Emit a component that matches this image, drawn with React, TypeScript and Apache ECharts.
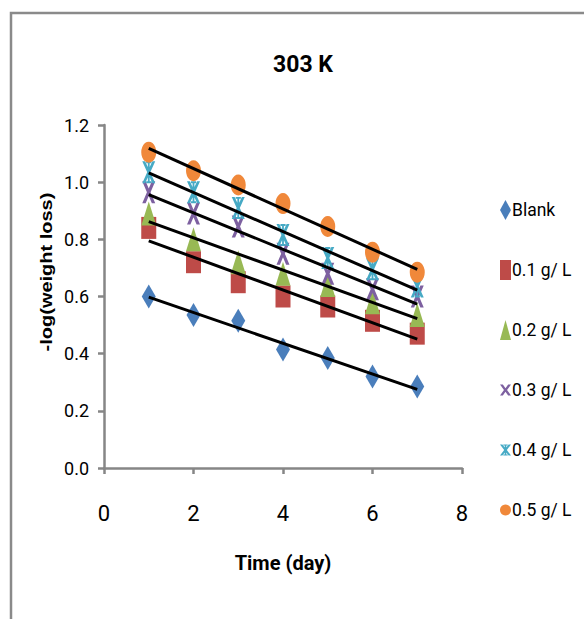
import React, { useEffect, useRef } from "react";
import * as echarts from "echarts";

const days = [1, 2, 3, 4, 5, 6, 7];
const blank = [0.6, 0.535, 0.515, 0.415, 0.385, 0.32, 0.285];
const c01 = [0.84, 0.72, 0.65, 0.6, 0.565, 0.515, 0.47];
const c02 = [0.89, 0.8, 0.72, 0.68, 0.64, 0.58, 0.535];
const c03 = [0.965, 0.89, 0.845, 0.75, 0.68, 0.625, 0.6];
const c04 = [1.035, 0.965, 0.91, 0.815, 0.735, 0.695, 0.635];
const c05 = [1.105, 1.04, 0.99, 0.925, 0.845, 0.755, 0.685];
const seriesNames = ["Blank", "0.1 g/ L", "0.2 g/ L", "0.3 g/ L", "0.4 g/ L", "0.5 g/ L"];
const xTicks = [0, 2, 4, 6, 8];
const yTicks = [0, 0.2, 0.4, 0.6, 0.8, 1.0, 1.2];

const FONT = "Roboto, 'Liberation Sans', sans-serif";

const X_SYM = "path://M0,0 L2.6,0 L5,3.3 L7.4,0 L10,0 L6.4,5 L10,10 L7.4,10 L5,6.7 L2.6,10 L0,10 L3.6,5 Z";
const STAR_SYM =
  "path://M0,0 L2.2,0 L5,3.6 L7.8,0 L10,0 L6.2,5 L10,10 L7.8,10 L5,6.4 L2.2,10 L0,10 L3.8,5 Z M4.3,0 L5.7,0 L5.7,10 L4.3,10 Z M3,0 L7,0 L7,0.9 L3,0.9 Z M3,9.1 L7,9.1 L7,10 L3,10 Z";

function fit(ys: number[]) {
  const n = days.length;
  const mx = days.reduce((a, b) => a + b, 0) / n;
  const my = ys.reduce((a, b) => a + b, 0) / n;
  let sxy = 0, sxx = 0;
  for (let i = 0; i < n; i++) {
    sxy += (days[i] - mx) * (ys[i] - my);
    sxx += (days[i] - mx) * (days[i] - mx);
  }
  const b = sxy / sxx;
  const a = my - b * mx;
  const x0 = days[0], x1 = days[n - 1];
  return [[x0, a + b * x0], [x1, a + b * x1]];
}

export default function App() {
  const ref = useRef<HTMLDivElement>(null);
  useEffect(() => {
    document.body.style.margin = "0";
    if (!ref.current) return;
    const chart = echarts.init(ref.current, null, { renderer: "svg" });
    const all = [blank, c01, c02, c03, c04, c05];
    const colors = ["#4A7EBB", "#BE4B48", "#98B954", "#7D60A0", "#46AAC5", "#F0883A"];
    const symbols = ["diamond", "rect", "triangle", X_SYM, STAR_SYM, "circle"];
    const sizes = [[14, 24], [15, 22], [15, 24], [13, 22], [13, 22], [15, 21]];
    const scatter = all.map((ys, i) => ({
      name: seriesNames[i],
      type: "scatter",
      data: ys.map((y, j) => [days[j], y]),
      symbol: symbols[i],
      symbolSize: sizes[i],
      itemStyle: { color: colors[i], opacity: 1 },
      z: 2 + i,
    }));
    const trends = all.map((ys) => ({
      type: "line",
      data: fit(ys),
      showSymbol: false,
      symbol: "none",
      lineStyle: { color: "#000", width: 3 },
      itemStyle: { color: "#000" },
      z: 10,
      silent: true,
    }));
    chart.setOption({
      animation: false,
      title: {
        text: "303 K",
        left: 298,
        top: 48,
        textAlign: "center",
        textStyle: { fontFamily: FONT, fontWeight: "bold", fontSize: 23, color: "#000" },
      },
      grid: { left: 104, right: 122, top: 125, bottom: 151, containLabel: false },
      xAxis: {
        type: "value",
        min: 0,
        max: 8,
        interval: 2,
        name: "Time (day)",
        nameLocation: "middle",
        nameGap: 85,
        nameTextStyle: { fontFamily: FONT, fontWeight: "bold", fontSize: 20, color: "#000" },
        axisLine: { lineStyle: { color: "#868686", width: 2.5 } },
        axisTick: { show: true, inside: false, length: 6, lineStyle: { color: "#868686", width: 2.5 } },
        axisLabel: {
          margin: 34,
          fontFamily: FONT,
          fontSize: 22,
          color: "#000",
          formatter: (v: number) => (xTicks.includes(v) ? String(v) : ""),
        },
        splitLine: { show: false },
      },
      yAxis: {
        type: "value",
        min: 0,
        max: 1.2,
        interval: 0.2,
        axisLine: { show: true, lineStyle: { color: "#868686", width: 2.5 } },
        axisTick: { show: true, inside: false, length: 6, lineStyle: { color: "#868686", width: 2.5 } },
        axisLabel: {
          margin: 15,
          fontFamily: FONT,
          fontSize: 18,
          color: "#000",
          formatter: (v: number) => {
            const t = yTicks.find((k) => Math.abs(k - v) < 1e-6);
            return t === undefined ? "" : t.toFixed(1);
          },
        },
        splitLine: { show: false },
      },
      legend: {
        data: seriesNames,
        orient: "vertical",
        left: 495,
        top: 195,
        itemWidth: 11,
        itemHeight: 20,
        itemGap: 40,
        textStyle: { fontFamily: FONT, fontSize: 17.5, lineHeight: 20, color: "#000", padding: [0, 0, 0, -4] },
      },
      graphic: [
        {
          type: "rect",
          shape: { x: 11, y: 13, width: 640, height: 660 },
          style: { fill: "none", stroke: "#8a8a8a", lineWidth: 2.5 },
          silent: true,
        },
        {
          type: "text",
          x: 46,
          y: 272,
          rotation: Math.PI / 2,
          scaleY: 0.85,
          style: {
            text: "-log(weight loss)",
            fontFamily: "'Liberation Sans', Arial, sans-serif",
            fontWeight: "bold",
            fontSize: 20,
            fill: "#000",
            align: "center",
            verticalAlign: "middle",
          },
        },
      ],
      series: [...scatter, ...trends],
    });
    return () => chart.dispose();
  }, []);
  return <div ref={ref} style={{ width: 584, height: 619 }} />;
}
